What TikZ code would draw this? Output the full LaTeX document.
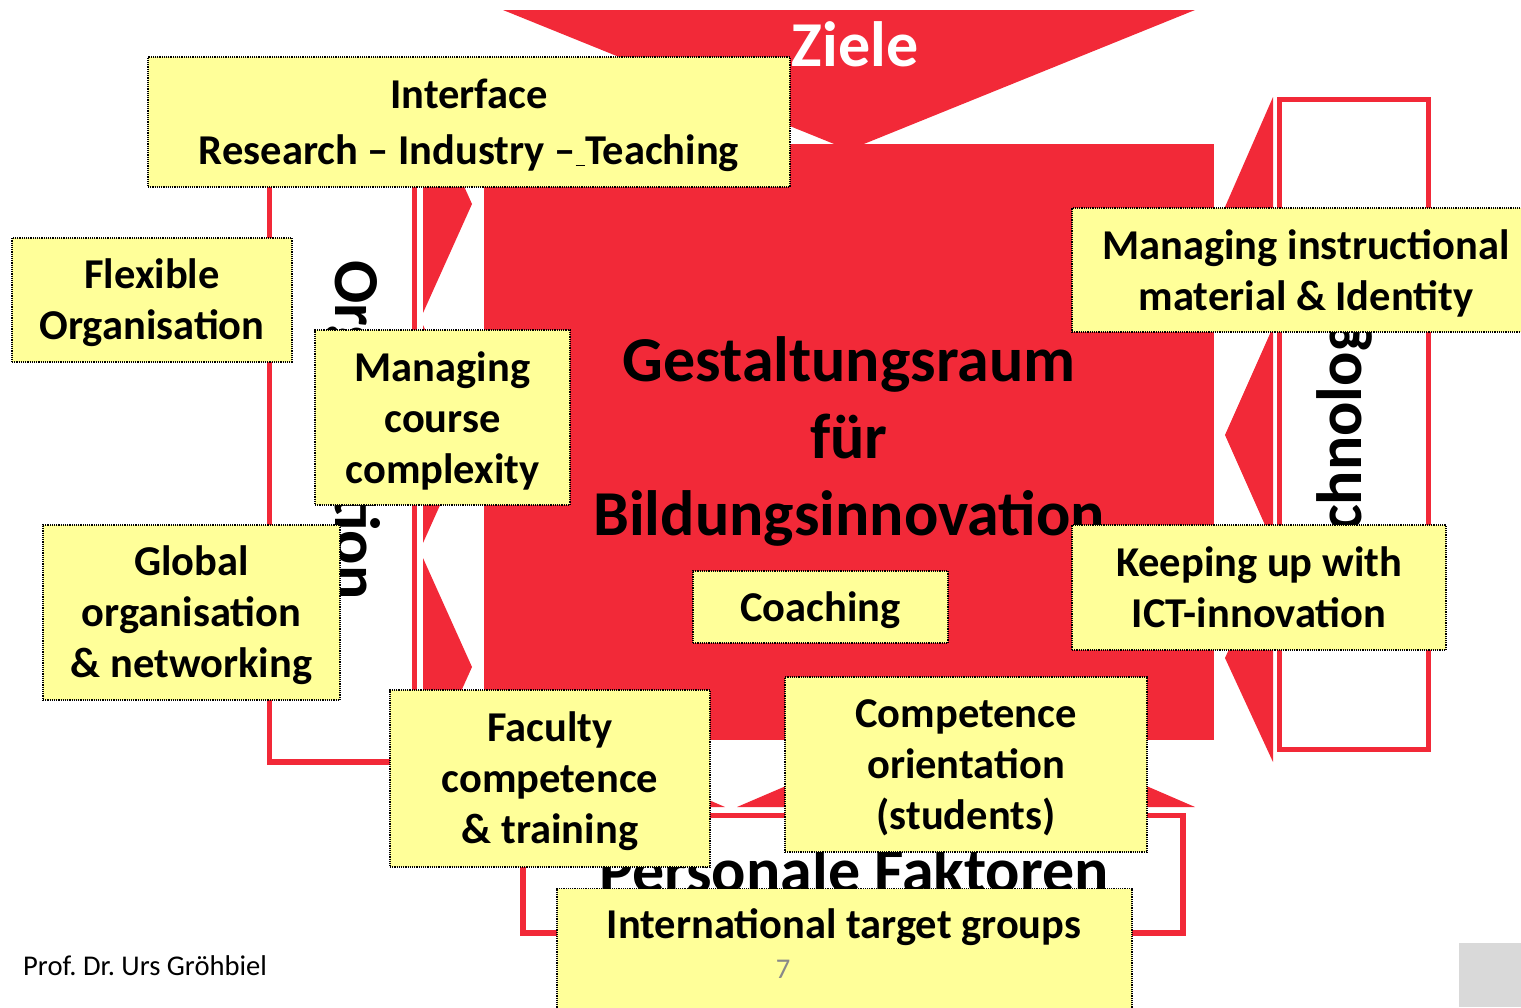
\documentclass[tikz,border=0pt]{standalone}
\usepackage{fontspec}
\setmainfont{Carlito}
\usetikzlibrary{positioning}
\frenchspacing
\definecolor{slideRed}{RGB}{242,41,56}
\definecolor{boxYellow}{RGB}{255,255,153}
\definecolor{pageGray}{RGB}{137,137,137}
\definecolor{cornerGray}{RGB}{217,217,217}
\tikzset{
    boxNode/.style={rectangle, draw=black, fill=boxYellow, densely dotted, line width=1.2pt, inner sep=0pt},
    boxText/.style={inner sep=0pt, align=center, font=\fontsize{42.5}{51}\selectfont\bfseries},
    frameLine/.style={draw=slideRed, line width=5.5pt},
    arrowFill/.style={fill=slideRed},
    bigLabel/.style={inner sep=0pt, font=\fontsize{64}{77}\selectfont\bfseries},
    footText/.style={inner sep=0pt, font=\fontsize{28.6}{34}\selectfont},
}
\newcommand{\arrowTriangle}[3]{
    \fill[arrowFill] (#1) -- (#2) -- (#3) -- cycle;
}
\newcommand{\yellowBox}[6][-3pt]{
    \node[boxNode, minimum width=#4pt, minimum height=#5pt] (#2) at (#3) {};
    \node[boxText] (#2Text) at ([yshift=#1]#2.center) {#6};
}
\begin{document}
\begin{tikzpicture}[x=1pt, y=-1pt]
        \useasboundingbox (0,0) rectangle (1521,1007);

        \draw[frameLine] (269.5,100) rectangle (414.5,762);
        \draw[frameLine] (1279.5,99.5) rectangle (1428.5,749.5);
        \draw[frameLine] (523,815.5) rectangle (1183,933);

        \arrowTriangle{503,10}{1195,10}{849,150}
        \arrowTriangle{423,95}{472,204}{423,313}
        \arrowTriangle{423,325}{472,434}{423,543}
        \arrowTriangle{423,558}{472,667}{423,776}
        \arrowTriangle{1273,97}{1225,207}{1273,317}
        \arrowTriangle{1273,327}{1225,435}{1273,543}
        \arrowTriangle{1273,553}{1225,658}{1273,762}
        \arrowTriangle{503,807}{614,759}{725,807}
        \arrowTriangle{737,807}{849,759}{961,807}
        \arrowTriangle{973,807}{1084,759}{1195,807}

        \node[fill=slideRed, inner sep=0pt, minimum width=730pt, minimum height=596pt] (square) at (849,442) {};

        \node[bigLabel, text=white, anchor=base] (ziele) at (855,66) {Ziele};
        \node[bigLabel, rotate=-90, anchor=base] (orga) at (335,430) {Organisation};
        \node[bigLabel, rotate=90, anchor=base] (techno) at (1361,432) {Technologie};
        \node[bigLabel, anchor=base] (personal) at (854,892) {Personale Faktoren};
        \node[bigLabel, align=center] (raum) at (849,441) {Gestaltungsraum\\für\\Bildungsinnovation};

        \yellowBox{interface}{469,122}{642}{130}{Interface\\[5pt]Research – Industry –\underline{\ }Teaching}
        \yellowBox{flexible}{152,300}{280}{124}{Flexible\\Organisation}
        \yellowBox{complexity}{442.5,417.5}{255}{175}{Managing\\course\\complexity}
        \yellowBox{global}{191.5,612.5}{297}{175}{Global\\organisation\\\& networking}
        \yellowBox{material}{1306,270}{468}{124}{Managing instructional\\material \& Identity}
        \yellowBox[0pt]{ict}{1259,587.5}{374}{125}{Keeping up with\\ICT-innovation}
        \yellowBox{coaching}{820.5,607}{255}{72}{Coaching}
        \yellowBox{faculty}{550,778.5}{320}{177}{Faculty\\competence\\\& training}
        \yellowBox{students}{966,764.5}{362}{175}{Competence\\orientation\\(students)}
        \node[boxNode, minimum width=575pt, minimum height=160pt, anchor=north] (intlBox) at (844.5,888) {};
        \node[boxText, anchor=base] (intlText) at (844,938) {International target groups};

        \node[footText, anchor=base west] (author) at (23,975) {Prof. Dr. Urs Gröhbiel};
        \node[footText, text=pageGray, anchor=base] (pageNum) at (783,978) {7};
        \fill[cornerGray] (1459,943) rectangle (1521,1007);
    \end{tikzpicture}
\end{document}
